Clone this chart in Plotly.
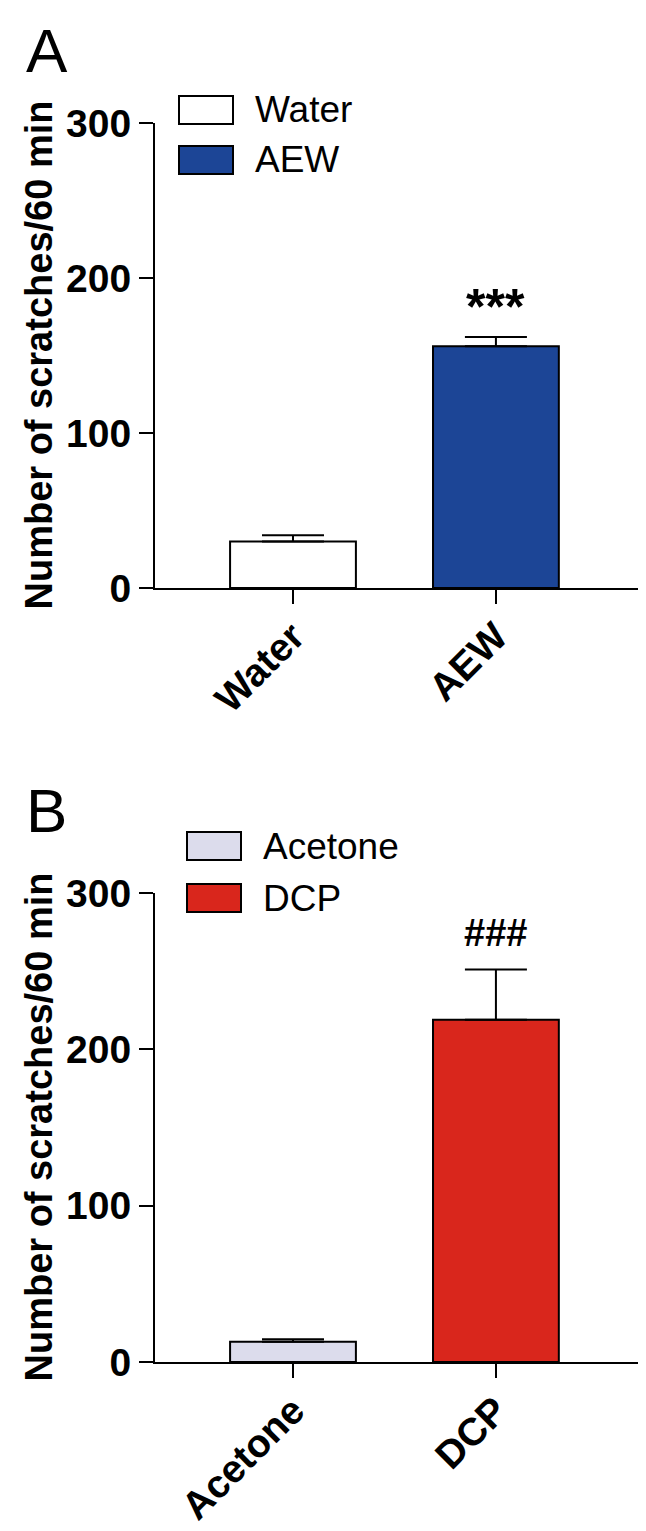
import plotly.graph_objects as go
from plotly.subplots import make_subplots

# panel A
groups_a = ["Water", "AEW"]
means_a = [30, 156]
sem_a = [4, 6]
colors_a = ["#ffffff", "#1c4596"]
sig_a = ["", "***"]

# panel B
groups_b = ["Acetone", "DCP"]
means_b = [13, 219]
sem_b = [1.5, 32]
colors_b = ["#dcdcec", "#d9261c"]
sig_b = ["", "###"]

y_ticks = [0, 100, 200, 300]
y_title = "Number of scratches/60 min"

W, H = 646, 1531
ML, MR, MT, MB = 147, 14, 115, 177
PW, PH = W - ML - MR, H - MT - MB


def px(x):
    return (x - ML) / PW


def py(y):
    return (H - MB - y) / PH


FONT = "Liberation Sans, Arial, sans-serif"

fig = make_subplots(rows=2, cols=1)

panels = [
    (groups_a, means_a, sem_a, colors_a, sig_a, "A"),
    (groups_b, means_b, sem_b, colors_b, sig_b, "B"),
]
domains = [[py(580), 1.0], [0.0, py(885)]]
label_y = [6, 766]
legend_x = [171, 179]
legend_y = [102, 838]
legend_gap = [50, 52]
sig_size = [50, 38]
sig_shift = [0, 14]

for i, (g, m, s, c, sig, lab) in enumerate(panels):
    row = i + 1
    fig.add_trace(go.Bar(
        x=g, y=m, width=0.62,
        marker=dict(color=c, line=dict(color="black", width=2)),
        error_y=dict(type="data", array=s, arrayminus=[0] * len(s), symmetric=False,
                     color="black", thickness=2, width=31),
        showlegend=False), row=row, col=1)

    fig.update_yaxes(range=[0, 300], tickvals=y_ticks, showline=True, linecolor="black",
                     linewidth=2, ticks="outside", ticklen=14, tickwidth=2, tickcolor="black",
                     showgrid=False, zeroline=False,
                     tickfont=dict(family=FONT, size=39, color="black", weight="bold"),
                     domain=domains[i], row=row, col=1)
    fig.update_xaxes(range=[-0.68, 1.71], showline=True, linecolor="black", linewidth=2,
                     ticks="outside", ticklen=14, tickwidth=2, tickcolor="black",
                     showgrid=False, tickangle=-45, ticklabelstandoff=-6,
                     tickfont=dict(family=FONT, size=39, color="black", weight="bold"),
                     row=row, col=1)

    yref = "y" if i == 0 else "y2"
    xref = "x" if i == 0 else "x2"
    # significance marks
    for gi, mi, si, t in zip(g, m, s, sig):
        if t:
            fig.add_annotation(x=gi, y=mi + si, xref=xref, yref=yref, text="<b>%s</b>" % t,
                               showarrow=False, yanchor="bottom", yshift=sig_shift[i],
                               font=dict(family=FONT, size=sig_size[i], color="black"))

    # axis title
    fig.add_annotation(x=px(30), y=sum(domains[i]) / 2, xref="paper", yref="paper",
                       text=y_title, textangle=-90, showarrow=False,
                       xanchor="center", yanchor="middle",
                       font=dict(family=FONT, size=38, color="black", weight="bold"))

    # panel letter
    fig.add_annotation(x=px(16), y=py(label_y[i]), xref="paper", yref="paper",
                       text=lab, showarrow=False, xanchor="left", yanchor="top",
                       font=dict(family=FONT, size=62, color="black"))

    # legend boxes
    for k, (name, col) in enumerate(zip(g, c)):
        cy = legend_y[i] + k * legend_gap[i]
        x0 = legend_x[i]
        fig.add_shape(type="rect", xref="paper", yref="paper",
                      x0=px(x0), x1=px(x0 + 54), y0=py(cy + 14), y1=py(cy - 14),
                      fillcolor=col, line=dict(color="black", width=2))
        fig.add_annotation(x=px(x0 + 74), y=py(cy), xref="paper", yref="paper",
                           text=name, showarrow=False, xanchor="left", yanchor="middle",
                           font=dict(family=FONT, size=37, color="black"))

fig.update_layout(width=W, height=H, margin=dict(l=ML, r=MR, t=MT, b=MB),
                  plot_bgcolor="white", paper_bgcolor="white")

fig.write_html("out.html")
